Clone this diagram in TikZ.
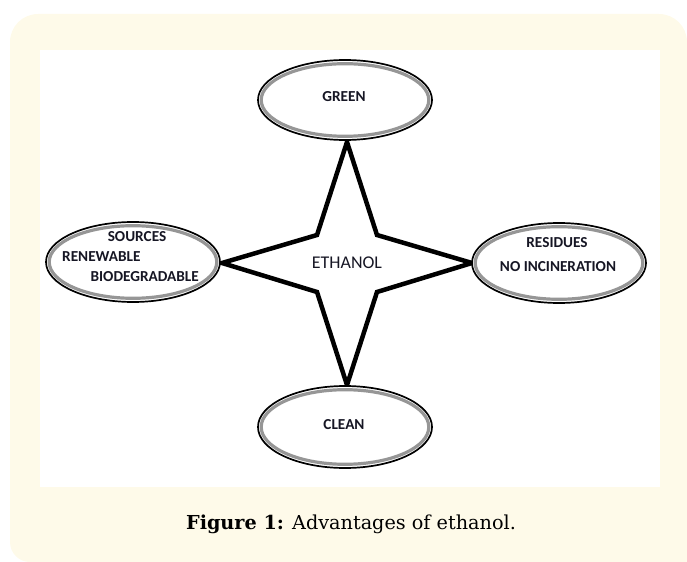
\documentclass[tikz,border=0pt]{standalone}
\usepackage{fontspec}
\setmainfont{Carlito}
\newfontfamily\capfont{DejaVu Serif}
\usetikzlibrary{shapes.geometric}
\definecolor{cream}{RGB}{254,250,233}
\definecolor{ringgray}{RGB}{150,150,150}
\definecolor{txt}{RGB}{22,22,36}
\tikzset{
  ell/.style={ellipse, draw=black, line width=1.7bp, fill=white, inner sep=0pt,
              minimum width=174bp, minimum height=80bp},
  ring/.style={draw=ringgray, line width=3.2bp},
  lbl/.style={inner sep=0pt, text=txt, font=\bfseries\fontsize{15.3}{17}\selectfont},
  starline/.style={draw=black, line width=4.5bp, fill=white, line join=miter},
}
\begin{document}
\begin{tikzpicture}[x=1bp,y=-1bp]
\useasboundingbox (0,0) rectangle (687,562);
% background
\fill[cream] (10,542) -- (10,42) arc[start angle=180, end angle=270, radius=28]
  -- (659,14) arc[start angle=270, end angle=360, radius=28]
  -- (687,562) -- (30,562) arc[start angle=90, end angle=180, radius=20] -- cycle;
\fill[white] (40,50) rectangle (660,487);
% star tips
\coordinate (tT) at (347,142);
\coordinate (tB) at (347,385);
\coordinate (tL) at (222,263);
\coordinate (tR) at (472,263);
\draw[starline] (tT) -- (377,235) -- (tR) -- (377,292) -- (tB) -- (317,292) -- (tL) -- (317,235) -- cycle;
\node[inner sep=0pt, text=txt, font=\fontsize{18}{20}\selectfont] (eth) at (347,263) {ETHANOL};
% ellipses
\node[ell] (green) at (345,100) {};
\draw[ring] (green.center) ellipse [x radius=83.8bp, y radius=36.3bp];
\node[lbl] (greent) at (344,97) {GREEN};

\node[ell] (src) at (133,262) {};
\draw[ring] (src.center) ellipse [x radius=83.8bp, y radius=36.3bp];
\node[lbl] (srct) at (137,237) {SOURCES};
\node[lbl, anchor=west] (rent) at (62,257) {RENEWABLE};
\node[lbl, anchor=east] (biot) at (199,277) {BIODEGRADABLE};

\node[ell] (res) at (559,263) {};
\draw[ring] (res.center) ellipse [x radius=83.8bp, y radius=36.3bp];
\node[lbl] (rest) at (557,243) {RESIDUES};
\node[lbl] (noinc) at (558,267) {NO INCINERATION};

\node[ell, minimum height=82bp] (clean) at (345,427) {};
\draw[ring] (clean.center) ellipse [x radius=83.8bp, y radius=37.3bp];
\node[lbl] (cleant) at (344,425) {CLEAN};
% caption
\node[inner sep=0pt, anchor=base, font=\capfont\fontsize{19.3}{22}\selectfont] (cap) at (351,529)
  {\textbf{Figure 1:} Advantages of ethanol.};
\end{tikzpicture}
\end{document}
